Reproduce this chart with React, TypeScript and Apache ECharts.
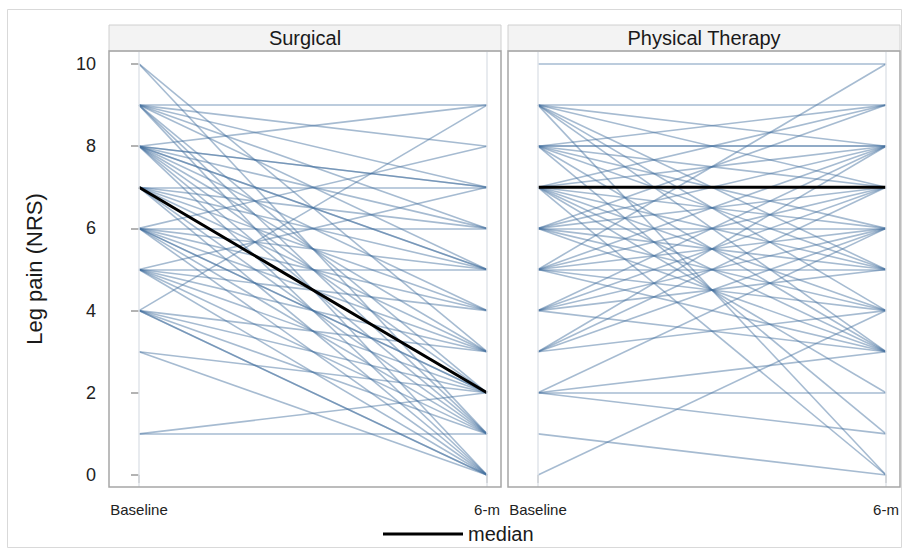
import React, { useEffect, useRef } from "react";
import * as echarts from "echarts";

const panels = ["Surgical", "Physical Therapy"];
const timepoints = ["Baseline", "6-m"];
const yTicks = [0, 2, 4, 6, 8, 10];

// Surgical: each patient's leg pain at baseline and at 6 months
const surgicalBaseline = [
  10, 10,
  9, 9, 9, 9, 9, 9, 9, 9,
  8, 8, 8, 8, 8, 8, 8, 8, 8, 8, 8,
  7, 7, 7, 7, 7, 7, 7, 7,
  6, 6, 6, 6, 6, 6, 6, 6, 6,
  5, 5, 5, 5, 5, 5, 5,
  4, 4, 4, 4, 4, 4,
  3, 3,
  1, 1,
];
const surgicalSixMonth = [
  1, 3,
  9, 8, 7, 6, 5, 2, 1, 0,
  9, 7, 7, 6, 5, 5, 4, 3, 2, 1, 0,
  7, 6, 5, 4, 3, 1, 0, 2,
  8, 6, 5, 4, 3, 2, 2, 1, 0,
  7, 5, 4, 3, 2, 1, 0,
  9, 3, 2, 1, 0, 0,
  2, 0,
  1, 2,
];

// Physical therapy
const ptBaseline = [
  10,
  9, 9, 9, 9, 9, 9, 9,
  8, 8, 8, 8, 8, 8, 8, 8,
  7, 7, 7, 7, 7, 7, 7, 7,
  6, 6, 6, 6, 6, 6, 6,
  5, 5, 5, 5, 5, 5, 5,
  4, 4, 4, 4, 4,
  3, 3, 3, 3,
  2, 2, 2, 2,
  1,
  0,
];
const ptSixMonth = [
  10,
  9, 8, 7, 5, 4, 3, 0,
  8, 8, 9, 7, 6, 5, 3, 1,
  9, 8, 6, 5, 4, 3, 2, 0,
  9, 8, 7, 6, 5, 4, 3,
  10, 8, 7, 6, 5, 4, 3,
  8, 7, 6, 5, 3,
  8, 7, 6, 4,
  6, 2, 1, 3,
  0,
  4,
];

const medianBaseline = [7, 7];
const medianSixMonth = [2, 7];

const FONT = "Liberation Sans, Arial, Helvetica, sans-serif";

const X_MIN = -0.0862;
const X_MAX = 1.0402;
const Y_MIN = -0.292;
const Y_MAX = 10.316;

const gridBoxes = [
  { left: 109, top: 51, width: 392, height: 436 },
  { left: 508, top: 51, width: 392, height: 436 },
];

export default function App() {
  const ref = useRef<HTMLDivElement>(null);

  useEffect(() => {
    if (!ref.current) return;
    const chart = echarts.init(ref.current, undefined, { renderer: "svg" });

    const pairs = [
      [surgicalBaseline, surgicalSixMonth],
      [ptBaseline, ptSixMonth],
    ];

    const series: any[] = [];
    pairs.forEach(([base, six], i) => {
      series.push({
        type: "line",
        name: "grid" + i,
        xAxisIndex: i,
        yAxisIndex: i,
        data: [],
        z: 1,
        silent: true,
        markLine: {
          silent: true,
          symbol: ["none", "none"],
          label: { show: false },
          lineStyle: { color: "#e1e5ea", type: "solid", width: 1.5 },
          data: [0, 1].map((v) => ({ xAxis: v })),
        },
      });
      series.push({
        type: "lines",
        coordinateSystem: "cartesian2d",
        xAxisIndex: i,
        yAxisIndex: i,
        z: 2,
        silent: true,
        lineStyle: { color: "#44709f", width: 1.6, opacity: 0.48 },
        data: base.map((b: number, k: number) => ({
          coords: [
            [0, b],
            [1, six[k]],
          ],
        })),
      });
      series.push({
        type: "line",
        name: "median",
        xAxisIndex: i,
        yAxisIndex: i,
        z: 3,
        symbol: "none",
        silent: true,
        lineStyle: { color: "#000", width: 3 },
        itemStyle: { color: "#000" },
        data: [
          [0, medianBaseline[i]],
          [1, medianSixMonth[i]],
        ],
      });
    });

    const graphic: any[] = [
      {
        type: "rect",
        shape: { x: 7.5, y: 9.5, width: 894, height: 538 },
        style: { fill: "none", stroke: "#d9d9d9", lineWidth: 1 },
        silent: true,
      },
    ];
    gridBoxes.forEach((g, i) => {
      graphic.push({
        type: "rect",
        shape: { x: g.left, y: 25, width: g.width, height: g.top - 25 },
        style: { fill: "#f3f3f3", stroke: "#d0d0d0", lineWidth: 1 },
        silent: true,
        z: 5,
      });
      graphic.push({
        type: "text",
        x: g.left + g.width / 2,
        y: 38,
        style: {
          text: panels[i],
          fontSize: 20,
          fontFamily: FONT,
          fill: "#1a1a1a",
          align: "center",
          verticalAlign: "middle",
        },
        silent: true,
        z: 6,
      });
      graphic.push({
        type: "rect",
        shape: { x: g.left, y: g.top, width: g.width, height: g.height },
        style: { fill: "none", stroke: "#a6a6a6", lineWidth: 1.5 },
        silent: true,
        z: 6,
      });
    });

    const option: any = {
      animation: false,
      backgroundColor: "#ffffff",
      textStyle: { fontFamily: FONT },
      grid: gridBoxes.map((g) => ({ ...g, containLabel: false })),
      xAxis: [0, 1].map((i) => ({
        type: "value",
        gridIndex: i,
        min: X_MIN,
        max: X_MAX,
        axisLine: { show: false },
        splitLine: { show: false },
        axisTick: {
          show: true,
          length: 8,
          customValues: [0, 1],
          lineStyle: { color: "#9a9a9a", width: 1.5 },
        },
        axisLabel: {
          customValues: [0, 1],
          formatter: (v: number) => timepoints[Math.round(v)],
          fontSize: 15,
          color: "#222",
          fontFamily: FONT,
          margin: 15,
        },
      })),
      yAxis: [
        {
          type: "value",
          gridIndex: 0,
          min: Y_MIN,
          max: Y_MAX,
          axisLine: { show: false },
          splitLine: { show: false },
          axisTick: {
            show: true,
            length: 8,
            customValues: yTicks,
            lineStyle: { color: "#9a9a9a", width: 1.5 },
          },
          axisLabel: {
            customValues: yTicks,
            fontSize: 18,
            color: "#222",
            fontFamily: FONT,
            margin: 13,
          },
          name: "Leg pain (NRS)",
          nameLocation: "middle",
          nameGap: 64,
          nameTextStyle: { fontSize: 22, color: "#1a1a1a", fontFamily: FONT },
        },
        {
          type: "value",
          gridIndex: 1,
          min: Y_MIN,
          max: Y_MAX,
          axisLine: { show: false },
          splitLine: { show: false },
          axisTick: { show: false },
          axisLabel: { show: false },
        },
      ],
      legend: {
        data: ["median"],
        left: 378,
        top: 519,
        icon: "rect",
        itemWidth: 80,
        itemHeight: 3,
        itemGap: 10,
        selectedMode: false,
        textStyle: { fontSize: 20, color: "#1a1a1a", fontFamily: FONT },
      },
      graphic,
      series,
    };

    chart.setOption(option);
    return () => chart.dispose();
  }, []);

  return (
    <div
      ref={ref}
      style={{ position: "absolute", left: 0, top: 0, width: 904, height: 549 }}
    />
  );
}
